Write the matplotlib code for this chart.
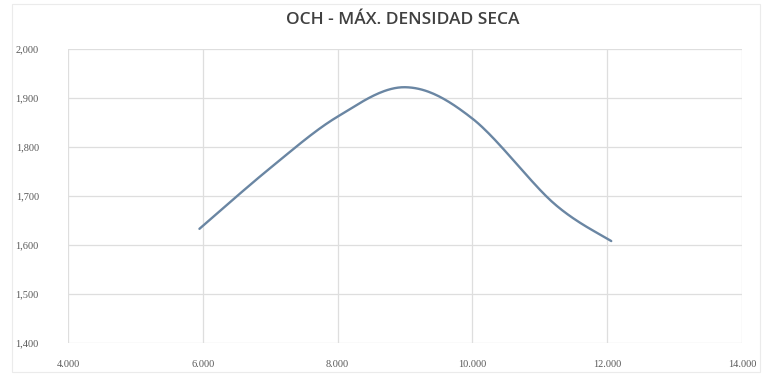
import numpy as np
import matplotlib
matplotlib.use("Agg")
import matplotlib.pyplot as plt
from matplotlib.patches import Rectangle

# Proctor test: moisture content (%) vs dry density (g/cm3)
humedad = [5.95, 7.0, 8.0, 9.0, 10.0, 11.2, 12.06]
densidad = [1.633, 1.757, 1.862, 1.922, 1.858, 1.686, 1.608]

x_ticks = [4, 6, 8, 10, 12, 14]
x_labels = ["4.000", "6.000", "8.000", "10.000", "12.000", "14.000"]
y_ticks = [1.4, 1.5, 1.6, 1.7, 1.8, 1.9, 2.0]
y_labels = ["1,400", "1,500", "1,600", "1,700", "1,800", "1,900", "2,000"]
titulo = "OCH - MÁX. DENSIDAD SECA"


def suavizar(xs, ys, n=40):
    """Smoothed line through the points (Catmull-Rom / Bezier segments)."""
    p = np.column_stack([xs, ys]).astype(float)
    ext = np.vstack([p[0], p, p[-1]])
    out = []
    t = np.linspace(0, 1, n)[:, None]
    for i in range(1, len(ext) - 2):
        p0, p1, p2, p3 = ext[i - 1], ext[i], ext[i + 1], ext[i + 2]
        b1 = p1 + (p2 - p0) / 6
        b2 = p2 - (p3 - p1) / 6
        seg = ((1 - t) ** 3) * p1 + 3 * ((1 - t) ** 2) * t * b1 + 3 * (1 - t) * t ** 2 * b2 + t ** 3 * p2
        out.append(seg if i == 1 else seg[1:])
    c = np.vstack(out)
    return c[:, 0], c[:, 1]


W, H = 766, 376
fig = plt.figure(figsize=(W / 100, H / 100), dpi=100)
fig.patch.set_facecolor("white")

# chart border
fig.add_artist(Rectangle((12 / W, 4 / H), (760 - 12) / W, (372 - 4) / H,
                         transform=fig.transFigure, fill=False,
                         edgecolor="#ebebeb", linewidth=0.8))

ax = fig.add_axes([68 / W, 1 - 343 / H, (742 - 68) / W, (343 - 49) / H])

sx, sy = suavizar(humedad, densidad)
ax.plot(sx, sy, color="#6a86a3", linewidth=1.7, solid_capstyle="round", zorder=3)

ax.set_xlim(4, 14)
ax.set_ylim(1.4, 2.0)
ax.set_xticks(x_ticks)
ax.set_xticklabels(x_labels)
ax.set_yticks(y_ticks)
ax.set_yticklabels(y_labels)
ax.grid(True, color="#dedede", linewidth=0.9)
ax.set_axisbelow(True)
for s in ax.spines.values():
    s.set_visible(False)
ax.tick_params(length=0, labelsize=7.5, labelcolor="#595959")
ax.tick_params(axis="y", pad=21)
ax.tick_params(axis="x", pad=12)
for lab in ax.get_xticklabels() + ax.get_yticklabels():
    lab.set_family("Liberation Serif")

fig.text(403 / W, 1 - 20 / H, titulo, ha="center", va="center",
         fontsize=12.5, color="#404040", family="Open Sans", fontweight="semibold")

fig.savefig("out.png", dpi=100, facecolor="white")
